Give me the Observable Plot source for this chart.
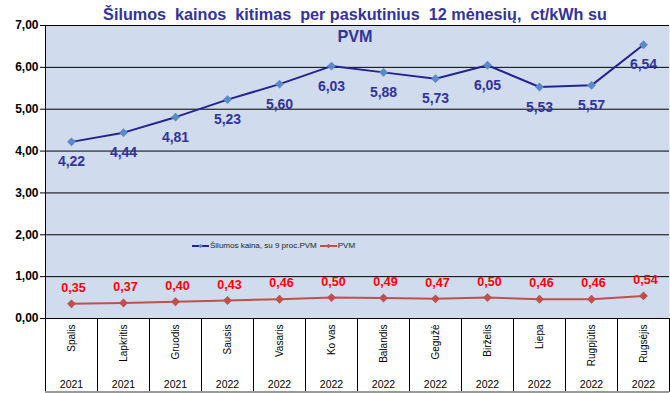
<!DOCTYPE html>
<html><head><meta charset="utf-8">
<script src="https://cdn.jsdelivr.net/npm/d3@7"></script>
<script src="https://cdn.jsdelivr.net/npm/@observablehq/plot@0.6"></script>
<style>
body{margin:0;background:#fff;font-family:"Liberation Sans",Arial,sans-serif}
#wrap{position:relative;width:670px;height:393px;overflow:hidden}
#title{position:absolute;left:40px;width:630px;top:3px;text-align:center;font-weight:bold;font-size:16.2px;line-height:22px;color:#333399;white-space:pre}
#legend{position:absolute;left:192px;top:241px;font-size:8px;color:#222;display:flex;align-items:center;gap:1px}
#legend svg{display:block}
</style></head><body>
<div id="wrap"><div id="chart"></div>
<div id="title">Šilumos  kainos  kitimas  per paskutinius  12 mėnesių,  ct/kWh su
PVM</div>
<div id="legend"></div>
</div>
<script>
const months = ["Spalis","Lapkritis","Gruodis","Sausis","Vasaris","Ko vas","Balandis","Gegužė","Birželis","Liepa","Rugpjūtis","Rugsėjis"];
const years = ["2021","2021","2021","2022","2022","2022","2022","2022","2022","2022","2022","2022"];
const price = [4.22,4.44,4.81,5.23,5.60,6.03,5.88,5.73,6.05,5.53,5.57,6.54];
const vat = [0.35,0.37,0.40,0.43,0.46,0.50,0.49,0.47,0.50,0.46,0.46,0.54];
const yTicks = [0,1,2,3,4,5,6,7];
const seriesNames = ["Šilumos kaina, su 9 proc.PVM","PVM"];
const colors = {price:"#242490", priceMark:"#5a8ac8", vat:"#c0504d", priceLabel:"#333399", vatLabel:"#ff0000"};

const fmt = v => v.toFixed(2).replace(".", ",");
const data = months.map((m,i)=>({i, m, year: years[i], price: price[i], vat: vat[i]}));
const bounds = d3.range(months.length + 1).map(k => k - 0.5);
const bottom = -1.76;

const chart = Plot.plot({
  width: 670, height: 393,
  marginTop: 25, marginBottom: 75, marginLeft: 45, marginRight: 1,
  x: {type: "linear", domain: [-0.5, months.length - 0.5], axis: null},
  y: {domain: [0, 7]},
  style: {fontFamily: "Liberation Sans, Arial, sans-serif", background: "transparent", overflow: "visible", color: "#000"},
  marks: [
    Plot.frame({fill: "#d0dcee", stroke: null}),
    Plot.ruleY(yTicks, {stroke: "#000", strokeWidth: 1}),
    Plot.ruleX(bounds, {y1: bottom, y2: 0, stroke: "#000"}),
    Plot.ruleX([bounds[0]], {y1: 0, y2: 7, stroke: "#000"}),
    Plot.ruleY([bottom], {stroke: "#9a9a9a", strokeWidth: 2.5}),
    Plot.axisY({ticks: yTicks, tickFormat: fmt, tickSize: 5, tickPadding: 2, fontWeight: "bold", fontSize: 12, label: null, stroke: "#000"}),
    Plot.text(data, {x: "i", y: 0, text: "m", rotate: -90, textAnchor: "end", dy: 6, fontSize: 10, fill: "#000"}),
    Plot.text(data, {x: "i", y: 0, text: "year", dy: 66, fontSize: 10.5, fill: "#000"}),
    Plot.line(data, {x: "i", y: "vat", stroke: colors.vat, strokeWidth: 2}),
    Plot.dot(data, {x: "i", y: "vat", symbol: "diamond2", r: 4, fill: colors.vat, stroke: null}),
    Plot.text(data, {x: "i", y: "vat", text: d => fmt(d.vat), dy: -16, dx: 2, fill: colors.vatLabel, fontWeight: "bold", fontSize: 12.5}),
    Plot.line(data, {x: "i", y: "price", stroke: colors.price, strokeWidth: 2}),
    Plot.dot(data, {x: "i", y: "price", symbol: "diamond2", r: 4, fill: colors.priceMark, stroke: null}),
    Plot.text(data, {x: "i", y: "price", text: d => fmt(d.price), dy: 20, fill: colors.priceLabel, fontWeight: "bold", fontSize: 14})
  ]
});
document.getElementById("chart").appendChild(chart);

const legend = d3.select("#legend");
[[seriesNames[0], colors.price, colors.priceMark], [seriesNames[1], colors.vat, colors.vat]].forEach(([name, c, m], k) => {
  const s = legend.append("svg").attr("width", 17).attr("height", 8).style("margin-left", k ? "2px" : "0");
  s.append("line").attr("x1", 0).attr("x2", 17).attr("y1", 4).attr("y2", 4).attr("stroke", c).attr("stroke-width", 2);
  s.append("path").attr("d", d3.symbol(d3.symbolDiamond2, 12)()).attr("transform", "translate(8.5,4)").attr("fill", m);
  legend.append("span").text(name);
});
</script>
</body></html>
